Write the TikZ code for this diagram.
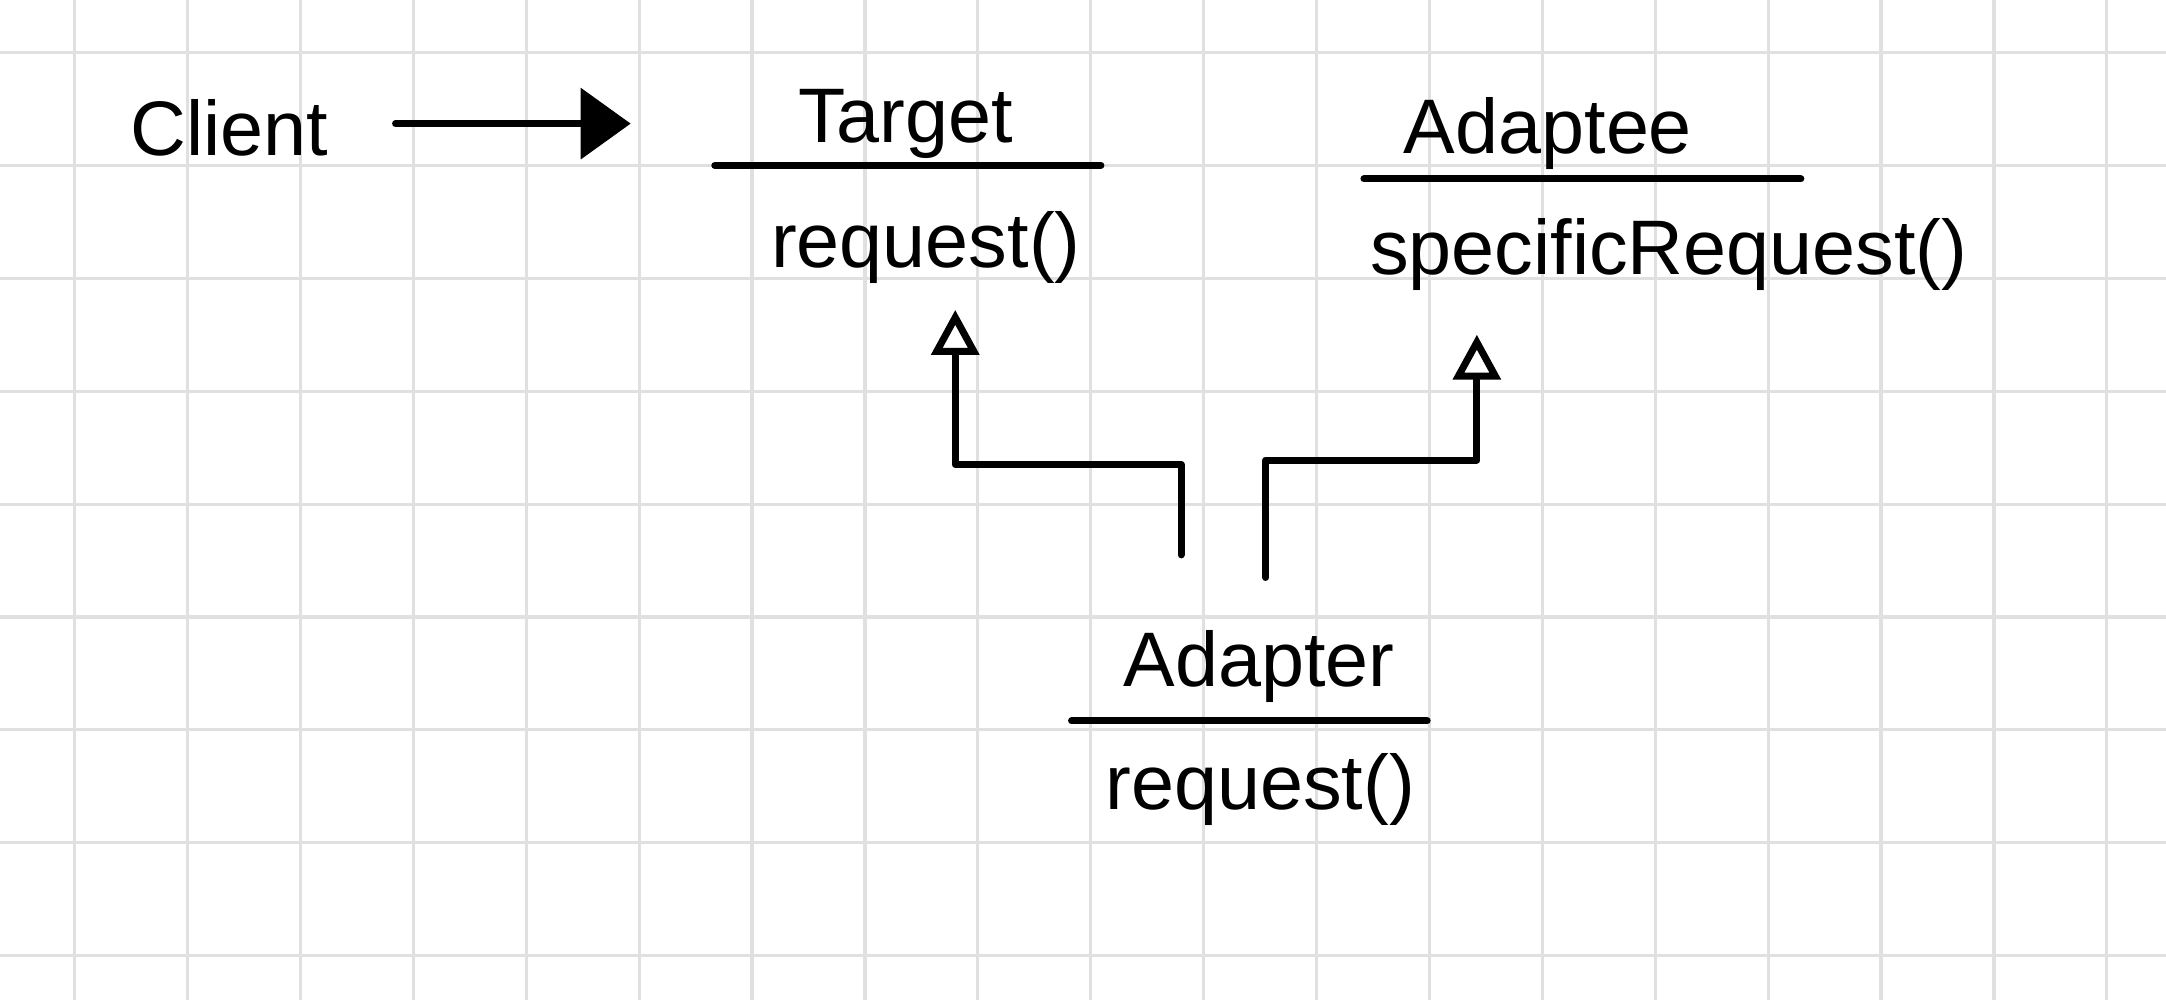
\documentclass[tikz,border=0pt]{standalone}
\usepackage{fontspec}
\setmainfont{Liberation Sans}
\usetikzlibrary{arrows.meta}
\begin{document}
\begin{tikzpicture}[x=1.129cm, y=1.129cm, font=\fontsize{22}{26}\selectfont, line join=round, line cap=round,
	gridline/.style={line width=0.9pt, color=black!12},
	stroke/.style={line width=2pt},
	assoc/.style={stroke, -{Triangle[width=0.7cm, length=0.5cm]}},
	inherit/.style={stroke, -{Triangle[open, width=0.47cm, length=0.45cm]}}]
				\def\xmin{-0.661}\def\xmax{18.524}\def\ymin{-0.392}\def\ymax{8.465}
				\useasboundingbox (\xmin,\ymin) rectangle (\xmax,\ymax);
				\fill[white] (\xmin,\ymin) rectangle (\xmax,\ymax);
				\foreach \x in {0,...,18}\draw[gridline] (\x,\ymin)--(\x,\ymax);
				\foreach \y in {0,...,8}\draw[gridline] (\xmin,\y)--(\xmax,\y);
				% classes
				\node (client) at (1.37,7.33) {Client};
				\node (target) at (7.36,7.37) {Target};
				\node (targetop) at (7.54,6.27) {request()};
				\node (adaptee) at (13.05,7.28) {Adaptee};
				\node (adapteeop) at (14.12,6.21) {specificRequest()};
				\node (adapter) at (10.49,2.56) {Adapter};
				\node (adapterop) at (10.50,1.47) {request()};
				\draw[stroke] (5.67,7)--(9.09,7);
				\draw[stroke] (11.42,6.88)--(15.29,6.88);
				\draw[stroke] (8.83,2.08)--(11.98,2.08);
				% links
				\draw[assoc, shorten <=0.55cm, shorten >=1.55cm] (client.east|-target) -- (target.west);
				\coordinate (fromL) at (9.80,3.55);\coordinate (toL) at (7.80,5.72);
				\coordinate (fromR) at (10.55,3.35);\coordinate (toR) at (12.42,5.50);
				\draw[inherit] (fromL)--++(0,0.8)-|(toL);
				\draw[inherit] (fromR)--++(0,1.04)-|(toR);
	\end{tikzpicture}
\end{document}
